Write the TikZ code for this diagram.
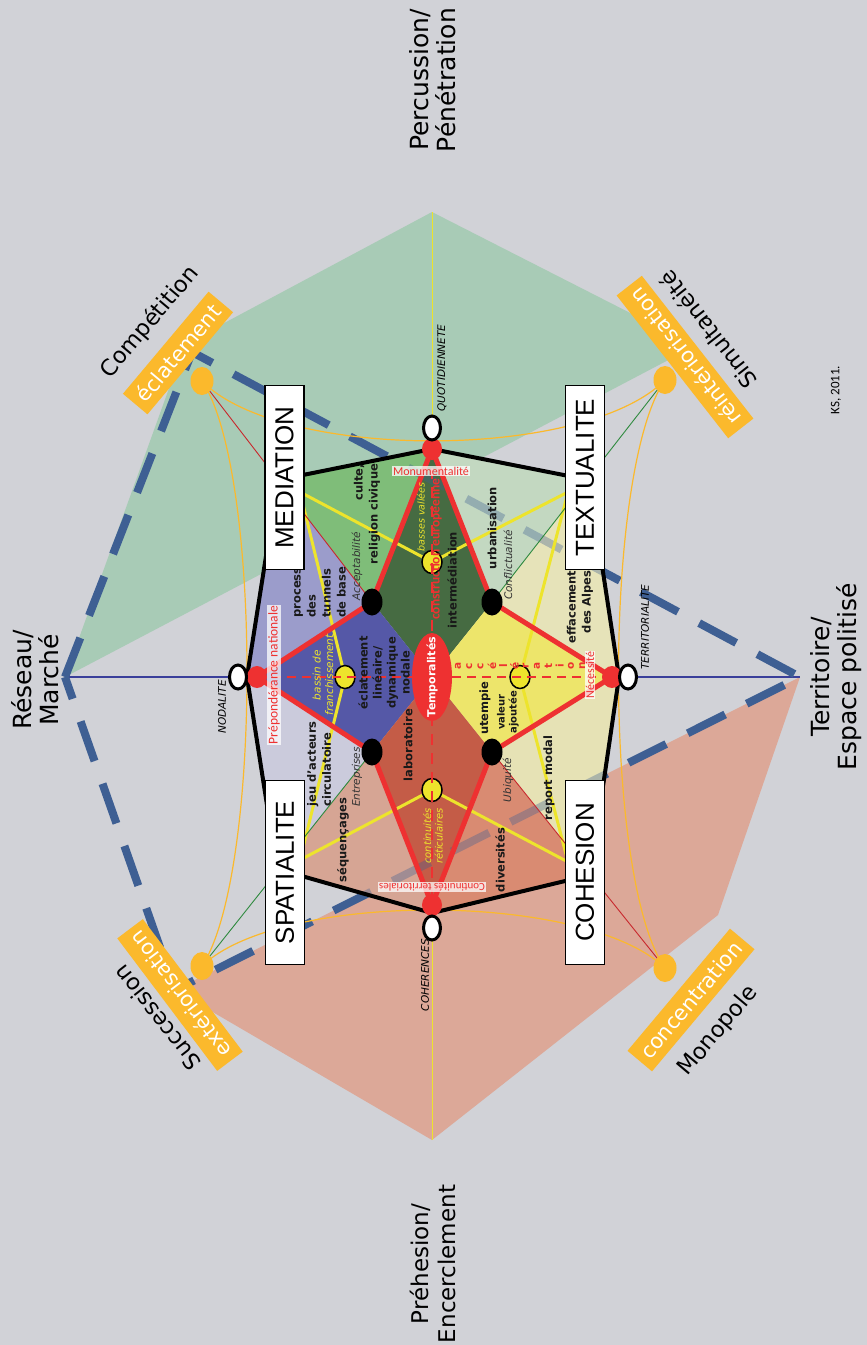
\documentclass[tikz,border=0pt]{standalone}
\usepackage{fontspec}
\setmainfont{DejaVu Sans}
\newfontfamily\boxfont{Liberation Sans}
\newfontfamily\calfont{Carlito}
\usetikzlibrary{shapes.geometric}
\definecolor{bgray}{HTML}{D1D2D7}
\definecolor{pgreen}{HTML}{A8CBB6}
\definecolor{psalmon}{HTML}{DCA898}
\definecolor{dblue}{HTML}{3E5F93}
\definecolor{orng}{HTML}{FBB92C}
\definecolor{rred}{HTML}{EE3131}
\definecolor{yel}{HTML}{EDE42C}
\definecolor{axblue}{HTML}{3A3F9A}
\definecolor{thgreen}{HTML}{2F8A3F}
\definecolor{thred}{HTML}{C8282D}
\definecolor{secA}{HTML}{7FBD79}
\definecolor{secB}{HTML}{9B9CCB}
\definecolor{secC}{HTML}{CBCBDC}
\definecolor{secD}{HTML}{D6A594}
\definecolor{secE}{HTML}{D98B72}
\definecolor{secF}{HTML}{E6E2B5}
\definecolor{secG}{HTML}{E6E3B9}
\definecolor{secH}{HTML}{C3D8C1}
\definecolor{armT}{HTML}{466B42}
\definecolor{armL}{HTML}{5558A7}
\definecolor{armR}{HTML}{EDE56B}
\definecolor{armB}{HTML}{C45C47}
\tikzset{
  blob/.style={ellipse,inner sep=0pt},
  wdot/.style={blob,draw=black,line width=3pt,fill=white,minimum width=17pt,minimum height=24pt},
  rdot/.style={blob,fill=rred,minimum width=20pt,minimum height=22pt},
  bdot/.style={blob,fill=black,minimum width=21pt,minimum height=27pt},
  ydot/.style={blob,draw=black,line width=1.5pt,fill=yel,minimum width=20pt,minimum height=23pt},
  odot/.style={blob,fill=orng,minimum width=23pt,minimum height=28pt},
  cbox/.style={draw=black,line width=1.5pt,fill=white,rotate=90,minimum width=184pt,minimum height=39pt,inner sep=0pt,font=\boxfont\fontsize{26}{28}\selectfont},
  obox/.style={fill=orng,text=white,inner xsep=7pt,inner ysep=1.5pt,minimum height=32pt,font=\fontsize{21}{24}\selectfont},
  axl/.style={rotate=90,align=center,font=\fontsize{25}{27}\selectfont},
  dgl/.style={inner sep=0pt,font=\fontsize{22.5}{25}\selectfont},
  blb/.style={rotate=90,inner sep=0pt,text=black!90,font=\bfseries\fontsize{11.5}{15}\selectfont},
  ilb/.style={rotate=90,inner sep=0pt,text=black!80,font=\itshape\fontsize{10.5}{12}\selectfont},
  ylb/.style={rotate=90,inner sep=0pt,align=center,text=yel,font=\itshape\fontsize{10.5}{12.5}\selectfont},
  rlb/.style={inner sep=1pt,text=rred,fill=white,fill opacity=0.75,text opacity=1,font=\calfont\fontsize{12}{14}\selectfont},
  redln/.style={draw=rred,line width=5pt,line join=round},
  ylin/.style={draw=yel,line width=3pt},
  diag/.style={line width=0.9pt},
  oline/.style={draw=orng,line width=1.2pt},
  bdash/.style={draw=dblue,line width=8pt,dash pattern=on 42pt off 24pt}
}
\begin{document}
\begin{tikzpicture}[x=1pt,y=-1pt]
\fill[bgray] (0,0) rectangle (867,1345);
\useasboundingbox (0,0) rectangle (867,1345);
\coordinate (c) at (432,677);
\coordinate (pRes) at (65,677);
\coordinate (pPer) at (432,212);
\coordinate (pTer) at (800,677);
\coordinate (pPre) at (432,1140);
\coordinate (gComp) at (185,344);
\coordinate (gSim) at (695,346);
\coordinate (sMon) at (718,915);
\coordinate (dNW) at (192,352);
\coordinate (dSW) at (175,990);
\coordinate (sT) at (432,449);
\coordinate (sL) at (257,677);
\coordinate (sR) at (612,677);
\coordinate (sB) at (432,905);
\coordinate (bTL) at (372,602);
\coordinate (bTR) at (492,602);
\coordinate (bBL) at (372,752);
\coordinate (bBR) at (492,752);
\coordinate (yT) at (432,562);
\coordinate (yL) at (345,677);
\coordinate (yR) at (520,677);
\coordinate (yB) at (432,790);
\coordinate (wT) at (432,428);
\coordinate (wL) at (238,677);
\coordinate (wR) at (628,677);
\coordinate (wB) at (432,928);
\coordinate (oNW) at (202,381);
\coordinate (oNE) at (665,380);
\coordinate (oSW) at (202,966);
\coordinate (oSE) at (665,968);
\coordinate (hTR) at (589,480);
\coordinate (hR) at (619,677);
\coordinate (hBR) at (590,875);
\coordinate (hB) at (432,913);
\coordinate (hBL) at (277,869);
\coordinate (hL) at (247,677);
\coordinate (hTL) at (278,480);
\coordinate (kTL) at (300,492);
\coordinate (kTR) at (568,492);
\coordinate (kBL) at (300,860);
\coordinate (kBR) at (568,862);

\fill[pgreen] (pRes) -- (gComp) -- (pPer) -- (gSim) -- cycle;
\fill[psalmon] (pTer) -- (sMon) -- (pPre) -- (dSW) -- cycle;
\draw[axblue,line width=1.2pt] (pRes) -- (wL);
\draw[axblue,line width=1.2pt] (wR) -- (pTer);
\draw[yel,line width=1pt] (pPer) -- (wT);
\draw[yel,line width=1pt] (wB) -- (pPre);
\draw[bdash] (pRes) -- (dNW) -- (pTer) -- (dSW) -- cycle;

\begin{scope}
\clip (sT) -- (hTR) -- (hR) -- (hBR) -- (hB) -- (hBL) -- (hL) -- (hTL) -- cycle;
\fill[secA] (sT) -- (432,370) -- (oNW) -- (bTL) -- cycle;
\fill[secB] (bTL) -- (oNW) -- (150,381) -- (150,677) -- (sL) -- cycle;
\fill[secC] (sL) -- (150,677) -- (150,966) -- (oSW) -- (bBL) -- cycle;
\fill[secD] (bBL) -- (oSW) -- (202,1000) -- (432,1000) -- (sB) -- cycle;
\fill[secE] (sB) -- (432,1000) -- (665,1000) -- (oSE) -- (bBR) -- cycle;
\fill[secF] (bBR) -- (oSE) -- (700,968) -- (700,677) -- (sR) -- cycle;
\fill[secG] (sR) -- (700,677) -- (700,380) -- (oNE) -- (bTR) -- cycle;
\fill[secH] (bTR) -- (oNE) -- (432,370) -- (sT) -- cycle;
\fill[armT] (sT) -- (bTL) -- (c) -- (bTR) -- cycle;
\fill[armL] (sL) -- (bTL) -- (c) -- (bBL) -- cycle;
\fill[armR] (sR) -- (bTR) -- (c) -- (bBR) -- cycle;
\fill[armB] (sB) -- (bBL) -- (c) -- (bBR) -- cycle;
\draw[bdash,opacity=0.35] (pRes) -- (dNW) -- (pTer) -- (dSW) -- cycle;
\end{scope}

\draw[ylin] (kTL) -- (yT) -- (kTR);
\draw[ylin] (kTL) -- (yL) -- (kBL);
\draw[ylin] (kTR) -- (yR) -- (kBR);
\draw[ylin] (kBL) -- (yB) -- (kBR);
\draw[diag,thred] (bTL) -- (oNW);
\draw[diag,thgreen] (bTR) -- (oNE);
\draw[diag,thgreen] (bBL) -- (oSW);
\draw[diag,thred] (bBR) -- (oSE);
\draw[oline] (oNW) .. controls (280,461) and (585,461) .. (oNE);
\draw[oline] (oNW) .. controls (262,470) and (262,875) .. (oSW);
\draw[oline] (oNE) .. controls (603,470) and (603,880) .. (oSE);
\draw[oline] (oSW) .. controls (280,891) and (585,891) .. (oSE);
\draw[black,line width=4pt,line join=round] (sT) -- (hTR) -- (hR) -- (hBR) -- (hB) -- (hBL) -- (hL) -- (hTL) -- cycle;
\draw[redln] (sT) -- (bTL) -- (sL) -- (bBL) -- (sB) -- (bBR) -- (sR) -- (bTR) -- cycle;

\foreach \p in {T,L,R,B} \node[ydot] (yel\p) at (y\p) {};
\draw[rred,line width=2pt,dash pattern=on 9pt off 6pt] (sL) -- (sR);
\draw[rred,line width=1.6pt,dash pattern=on 11pt off 8pt] (sT) -- (sB);
\foreach \p in {TL,TR,BL,BR} \node[bdot] (dot\p) at (b\p) {};
\foreach \p in {T,L,R,B} {
  \node[rdot] (red\p) at (s\p) {};
  \node[wdot] (wht\p) at (w\p) {};
}
\foreach \p in {NW,NE,SW,SE} \node[odot] (org\p) at (o\p) {};
\node[blob,fill=rred,minimum width=40pt,minimum height=88pt] (tempo) at (c) {};
\node[rotate=90,text=white,inner sep=0pt,font=\bfseries\fontsize{11}{13}\selectfont] (tempolbl) at (c) {Temporalités};
\foreach \l [count=\i from 0] in {a,c,c,é,l,é,r,a,t,i,o,n}
  \node[rotate=90,inner sep=0pt,text=rred,font=\bfseries\fontsize{10.5}{12}\selectfont] (acc\i) at (458+11.3*\i,666) {\l};

\node[blb,align=right] (culte) at (367,514) {culte,\\religion civique};
\node[blb,align=left] (proc) at (320,585) {processus\\des\\tunnels\\de base};
\node[blb,align=center,font=\bfseries\fontsize{11.5}{14}\selectfont] (eclin) at (384,673) {éclatement\\linéaire/\\dynamique\\nodale};
\node[blb] (interm) at (452,580) {intermédiation};
\node[blb] (urban) at (492,528) {urbanisation};
\node[blb,align=right] (effac) at (580,607) {effacement\\des Alpes};
\node[blb] (utemp) at (485,708) {utempie};
\node[blb,align=center,font=\bfseries\fontsize{10}{12}\selectfont] (valaj) at (508,712) {valeur\\ajoutée};
\node[blb] (report) at (549,778) {report modal};
\node[blb] (divers) at (500,860) {diversités};
\node[blb] (labo) at (408,745) {laboratoire};
\node[blb,align=left] (jeu) at (319,764) {jeu d'acteurs\\circulatoire};
\node[blb] (sequ) at (343,840) {séquençages};
\node[ilb] (accep) at (357,566) {Acceptabilité};
\node[ilb] (confl) at (508,565) {Conflictualité};
\node[ilb] (entre) at (357,777) {Entreprises};
\node[ilb] (ubiq) at (508,780) {Ubiquité};
\node[ylb,font=\itshape\fontsize{9.5}{11}\selectfont] (basses) at (421,517) {basses vallées};
\node[ylb] (bassin) at (323,675) {bassin de\\franchissement};
\node[ylb,font=\itshape\fontsize{10}{11.5}\selectfont] (contin) at (433,836) {continuités\\réticulaires};
\node[rotate=90,text=rred,inner sep=0pt,font=\calfont\bfseries\fontsize{13.5}{15}\selectfont] (constr) at (436,549) {construction européenne};
\node[rlb] (monum) at (431,471) {Monumentalité};
\node[rlb,rotate=90,font=\calfont\fontsize{13.5}{15}\selectfont] (prepon) at (274,675) {Prépondérance nationale};
\node[rlb,rotate=90] (necess) at (590,675) {Nécessité};
\node[rlb,rotate=180,font=\calfont\fontsize{11}{13}\selectfont] (contter) at (432,887) {Continuités territoriales};
\node[ilb,text=black] (quot) at (442,368) {QUOTIDIENNETE};
\node[ilb,text=black] (nodal) at (222,707) {NODALITE};
\node[ilb,text=black] (terr) at (645,627) {TERRITORIALITE};
\node[ilb,text=black] (coher) at (425,975) {COHERENCES};

\node[cbox] (media) at (284.5,477.5) {MEDIATION};
\node[cbox] (textu) at (585,477.5) {TEXTUALITE};
\node[cbox] (spati) at (285,872.5) {SPATIALITE};
\node[cbox] (cohes) at (585,872.5) {COHESION};

\node[obox,rotate=50] (eclat) at (178,353) {éclatement};
\node[obox,rotate=128] (reint) at (685,357) {réintériorisation};
\node[obox,rotate=127] (exter) at (180,995) {extériorisation};
\node[obox,rotate=50] (conc) at (691,1000) {concentration};
\node[dgl,rotate=50] (compet) at (150,322) {Compétition};
\node[dgl,rotate=128] (simul) at (708,330) {Simultanéité};
\node[dgl,rotate=128] (succ) at (157,1018) {Succession};
\node[dgl,rotate=50] (mono) at (718,1031) {Monopole};
\node[axl] (percu) at (433,80) {Percussion/\\Pénétration};
\node[axl,font=\fontsize{23}{27}\selectfont] (prehe) at (433,1264) {Préhesion/\\Encerclement};
\node[axl] (reseau) at (35,680) {Réseau/\\Marché};
\node[axl] (territ) at (836,677) {Territoire/\\Espace politisé};
\node[rotate=90,font=\calfont\fontsize{13}{15}\selectfont] (ks) at (836,390) {KS, 2011.};
\end{tikzpicture}
\end{document}
